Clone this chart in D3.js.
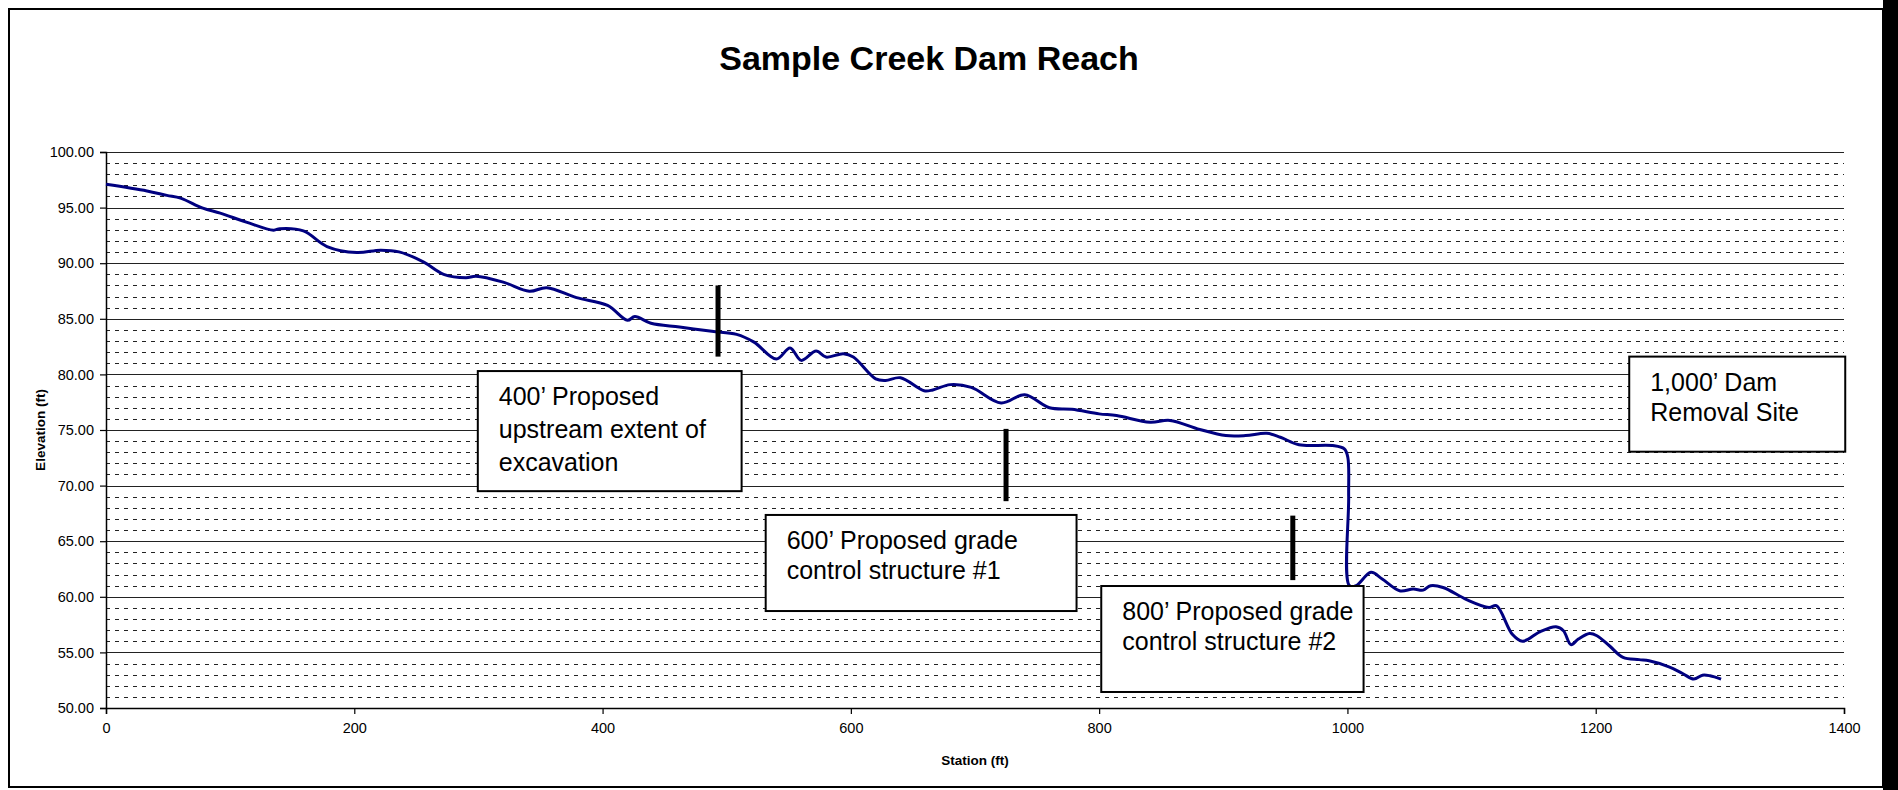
<!DOCTYPE html>
<html>
<head>
<meta charset="utf-8">
<script src="https://cdn.jsdelivr.net/npm/d3@7"></script>
<style>
  html, body { margin: 0; padding: 0; background: #fff; }
  svg { display: block; font-family: "Liberation Sans", Arial, sans-serif; }
</style>
</head>
<body>
<svg id="chart" width="1898" height="790"></svg>
<script>
// profile survey: station (ft) vs bed elevation (ft)
const STATION = [0, 33, 49, 60, 78, 92, 113, 135, 140, 159, 178, 202, 221, 236, 256, 272, 290, 298,
  320, 341, 355, 379, 404, 420, 426, 439, 462, 488, 508, 522, 540, 551, 560, 572, 580, 594, 602,
  620, 628, 640, 659, 666, 680, 697, 721, 740, 760, 778, 800, 814, 841, 857, 881, 902, 918, 935,
  946, 961, 988, 997.5, 1000.3, 1001, 1001.6, 1007, 1019, 1028, 1042, 1053, 1061, 1067, 1077,
  1096, 1114, 1120, 1133, 1141, 1155, 1168, 1174, 1180, 1186, 1195, 1201, 1211, 1222, 1235,
  1243, 1259, 1270, 1279, 1286, 1292, 1301];
const ELEVATION = [97.1, 96.5, 96.1, 95.85, 94.95, 94.5, 93.7, 92.97, 93.1, 92.9, 91.5, 90.96, 91.17,
  91.02, 90.1, 89.0, 88.7, 88.83, 88.3, 87.48, 87.8, 86.9, 86.2, 84.86, 85.2, 84.6, 84.26, 83.88,
  83.6, 82.9, 81.38, 82.37, 81.26, 82.1, 81.56, 81.86, 81.56, 79.6, 79.46, 79.7, 78.53, 78.6,
  79.08, 78.83, 77.43, 78.17, 77.0, 76.86, 76.45, 76.3, 75.7, 75.86, 75.05, 74.5, 74.5, 74.7,
  74.35, 73.67, 73.6, 73.3, 72.55, 69.0, 61.0, 61.0, 62.2, 61.6, 60.55, 60.7, 60.6, 61.0, 60.84,
  59.75, 59.04, 59.2, 56.6, 56.0, 56.85, 57.3, 56.95, 55.7, 56.2, 56.7, 56.5, 55.6, 54.55, 54.35,
  54.25, 53.7, 53.1, 52.6, 52.95, 52.9, 52.6];

// proposed structure markers (station, bottom elev, top elev)
const MARK_STATION = [493, 725, 956];
const MARK_LOW = [81.6, 68.6, 61.5];
const MARK_HIGH = [88.0, 75.1, 67.3];

// callout boxes, corners in chart units
const NOTE_LINES = [
  ["400\u2019 Proposed", "upstream extent of", "excavation"],
  ["600\u2019 Proposed grade", "control structure #1"],
  ["800\u2019 Proposed grade", "control structure #2"],
  ["1,000\u2019 Dam", "Removal Site"],
];
const NOTE_X0 = [299.5, 531.4, 801.7, 1227];
const NOTE_X1 = [512, 781.8, 1013, 1401];
const NOTE_Y0 = [80.3, 67.36, 60.97, 81.6];
const NOTE_Y1 = [69.5, 58.72, 51.44, 73.05];

const X_TICKS = [0, 200, 400, 600, 800, 1000, 1200, 1400];
const Y_MAJOR = d3.range(50, 100.1, 5);
const Y_MINOR = d3.range(51, 100, 1).filter((v) => v % 5 !== 0);

const TITLE = "Sample Creek Dam Reach";
const X_LABEL = "Station (ft)";
const Y_LABEL = "Elevation (ft)";

const svg = d3.select("#chart");
const L = 106, R = 1844, T = 152, B = 708;

const x = d3.scaleLinear().domain([0, 1400]).range([L, R]);
const y = d3.scaleLinear().domain([50, 100]).range([B, T]);

// chart frame
svg.append("rect").attr("x", 9).attr("y", 9).attr("width", 1874).attr("height", 778)
  .attr("fill", "#fff").attr("stroke", "#000").attr("stroke-width", 2);
svg.append("rect").attr("x", 1883).attr("y", 0).attr("width", 15).attr("height", 790).attr("fill", "#000");

svg.append("text").attr("x", 929).attr("y", 70).attr("text-anchor", "middle")
  .attr("font-size", 34).attr("font-weight", "bold").text(TITLE);

// grid
const grid = svg.append("g").attr("shape-rendering", "crispEdges");
grid.selectAll("line.minor").data(Y_MINOR).join("line").attr("class", "minor")
  .attr("x1", L).attr("x2", R).attr("y1", (d) => Math.round(y(d)) + 0.5).attr("y2", (d) => Math.round(y(d)) + 0.5)
  .attr("stroke", "#222").attr("stroke-width", 1).attr("stroke-dasharray", "4,5");
grid.selectAll("line.major").data(Y_MAJOR).join("line").attr("class", "major")
  .attr("x1", L).attr("x2", R).attr("y1", (d) => Math.round(y(d)) + 0.5).attr("y2", (d) => Math.round(y(d)) + 0.5)
  .attr("stroke", "#222").attr("stroke-width", 1);

// axes
const yAxis = svg.append("g").attr("transform", `translate(${L},0)`)
  .call(d3.axisLeft(y).tickValues(Y_MAJOR).tickFormat(d3.format(".2f")).tickSize(6).tickPadding(6));
const xAxis = svg.append("g").attr("transform", `translate(0,${B})`)
  .call(d3.axisBottom(x).tickValues(X_TICKS).tickFormat(d3.format("d")).tickSize(6).tickPadding(9));
[yAxis, xAxis].forEach((g) => {
  g.select(".domain").attr("stroke", "#000").attr("stroke-width", 1.5);
  g.selectAll(".tick line").attr("stroke", "#000").attr("stroke-width", 1.2);
  g.selectAll(".tick text").attr("font-size", 14.5).attr("fill", "#000")
    .attr("font-family", "\"Liberation Sans\", Arial, sans-serif");
});

svg.append("text").attr("x", (L + R) / 2).attr("y", 765).attr("text-anchor", "middle")
  .attr("font-size", 13.5).attr("font-weight", "bold").text(X_LABEL);
svg.append("text").attr("transform", `translate(45,${(T + B) / 2}) rotate(-90)`).attr("text-anchor", "middle")
  .attr("font-size", 13.5).attr("font-weight", "bold").text(Y_LABEL);

// profile line
const pts = STATION.map((s, i) => [s, ELEVATION[i]]);
svg.append("path").datum(pts)
  .attr("d", d3.line().x((d) => x(d[0])).y((d) => y(d[1])).curve(d3.curveCatmullRom.alpha(0.5)))
  .attr("fill", "none").attr("stroke", "#000080").attr("stroke-width", 3).attr("stroke-linejoin", "round");

// markers
svg.append("g").selectAll("rect").data(MARK_STATION).join("rect")
  .attr("x", (d) => x(d) - 2.5).attr("width", 5)
  .attr("y", (d, i) => y(MARK_HIGH[i])).attr("height", (d, i) => y(MARK_LOW[i]) - y(MARK_HIGH[i]))
  .attr("fill", "#000");

// callouts
const notes = svg.append("g").selectAll("g").data(NOTE_LINES).join("g");
notes.append("rect")
  .attr("x", (d, i) => x(NOTE_X0[i])).attr("y", (d, i) => y(NOTE_Y0[i]))
  .attr("width", (d, i) => x(NOTE_X1[i]) - x(NOTE_X0[i])).attr("height", (d, i) => y(NOTE_Y1[i]) - y(NOTE_Y0[i]))
  .attr("fill", "#fff").attr("stroke", "#000").attr("stroke-width", 2);
notes.each(function (lines, i) {
  const lh = i === 0 ? 33 : 30;
  d3.select(this).selectAll("text").data(lines).join("text")
    .attr("x", x(NOTE_X0[i]) + 21).attr("y", (t, j) => y(NOTE_Y0[i]) + 34 + j * lh)
    .attr("font-size", 25).attr("fill", "#000").text((t) => t);
});
</script>
</body>
</html>
